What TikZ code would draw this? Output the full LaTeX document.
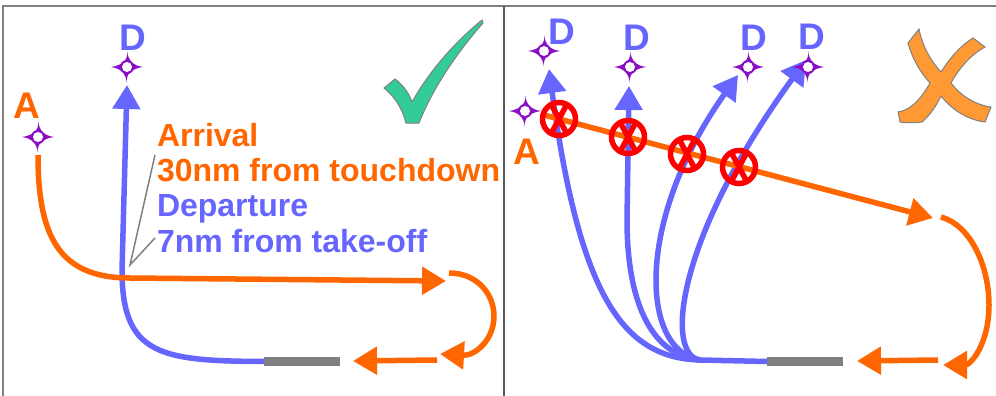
\documentclass[tikz,border=0pt]{standalone}
\usepackage{fontspec}
\setmainfont{Liberation Sans}
\usetikzlibrary{arrows.meta,positioning}
\definecolor{arrcol}{HTML}{FF6600}
\definecolor{depcol}{HTML}{6666FF}
\definecolor{wptcol}{HTML}{8A0FC4}
\definecolor{rwycol}{HTML}{808080}
\definecolor{okcol}{HTML}{33CC99}
\definecolor{badcol}{HTML}{FF9933}
\tikzstyle{every node}=[inner sep=0pt,outer sep=0pt]
\tikzstyle{arr}=[draw=arrcol,line width=5.5pt,-{Triangle[length=24pt,width=27pt]}]
\tikzstyle{dep}=[draw=depcol,line width=5.5pt,-{Triangle[length=24pt,width=27pt]}]
\tikzstyle{letter}=[font=\bfseries\fontsize{37}{37}\selectfont]
\tikzstyle{txt}=[font=\bfseries\fontsize{32}{32}\selectfont,anchor=base west]
\tikzstyle{rwy}=[fill=rwycol,minimum width=76pt,minimum height=9pt]
\tikzstyle{leader}=[draw=rwycol,line width=1.5pt]
\tikzstyle{wpt}=[minimum size=36pt,path picture={
  \fill[wptcol] (path picture bounding box.center) ++(0,-16)
    .. controls ++(1.5,10) and ++(-10,-1.5) .. ++(16,16)
    .. controls ++(-10,1.5) and ++(-1.5,-10) .. ++(-16,16)
    .. controls ++(-1.5,-10) and ++(10,1.5) .. ++(-16,-16)
    .. controls ++(10,-1.5) and ++(1.5,10) .. ++(16,-16) -- cycle;
  \fill[wptcol] (path picture bounding box.center) circle (7pt);
  \fill[white] (path picture bounding box.center) circle (5pt);}]
\tikzstyle{nogo}=[circle,draw=red,line width=5.5pt,minimum size=33pt,path picture={
  \draw[red,line width=5.5pt] (path picture bounding box.center) ++(-8,-15) -- ++(16,30);
  \draw[red,line width=5.5pt] (path picture bounding box.center) ++(8,-15) -- ++(-16,30);}]
\begin{document}
\begin{tikzpicture}[x=1pt,y=-1pt]
  \useasboundingbox (0,0) rectangle (996,396);
  % frame
  \draw[gray,line width=1.5pt] (3,396) -- (3,6) -- (996,6);
  \draw[black!65,line width=2.5pt] (504,6) -- (504,396);

  % good case
  \node[letter,text=depcol] (labD) at (133,38) {D};
  \node[letter,text=arrcol] (labA) at (27,106) {A};
  \node[wpt] (wptD) at (127,67) {};
  \node[wpt] (wptA) at (38,137) {};
  \node[rwy] (rwyL) at (302,361.5) {};
  \node[txt,text=arrcol] (txtArr) at (157,146) {Arrival};
  \node[txt,text=arrcol] (txtArrDist) at (157,181) {30nm from touchdown};
  \node[txt,text=depcol] (txtDep) at (157,216) {Departure};
  \node[txt,text=depcol] (txtDepDist) at (157,252) {7nm from take-off};
  \coordinate (leadEnd) at (130,265);
  \coordinate (leadTop) at (155,155);
  \coordinate (leadLow) at (155,238);
  \coordinate (turnIn) at (446,281);
  \coordinate (turnStart) at (449,273);
  \coordinate (turnEnd) at (440,354);
  \coordinate (finalStart) at (437,360);
  \coordinate (finalEnd) at (353,361);

  \draw[dep] (rwyL.west) .. controls (160,361) and (122,355) .. (122,270) -- (wptD.south);
  \draw[arr] (wptA.south) .. controls (38,235) and (58,278) .. (130,278) -- (turnIn);
  \draw[arr] (turnStart) .. controls (478,273) and (494,295) .. (494,316)
    .. controls (494,340) and (475,356) .. (turnEnd);
  \draw[arr] (finalStart) -- (finalEnd);
  \draw[leader] (leadTop) -- (leadEnd) -- (leadLow);

  \filldraw[fill=okcol,draw=gray,line width=1pt] (384,88) -- (395,79)
    .. controls (403,85) and (409,93) .. (412,102)
    .. controls (430,70) and (455,42) .. (482,20) -- (483,23)
    .. controls (455,55) and (432,90) .. (419,123) -- (406,123)
    .. controls (402,108) and (395,97) .. (384,88) -- cycle;

  % bad case
  \node[letter,text=depcol] (labDa) at (562,32) {D};
  \node[letter,text=depcol] (labDb) at (637,38) {D};
  \node[letter,text=depcol] (labDc) at (754,38) {D};
  \node[letter,text=depcol] (labDd) at (812,37) {D};
  \node[letter,text=arrcol] (labAb) at (527,152) {A};
  \node[wpt] (wptDa) at (544,51) {};
  \node[wpt] (wptDb) at (630,67) {};
  \node[wpt] (wptDc) at (748,67) {};
  \node[wpt] (wptAb) at (525,111) {};
  \node[rwy] (rwyR) at (805,361.5) {};
  \coordinate (fork) at (700,360);
  \coordinate (tipa) at (549,69);
  \coordinate (tipb) at (629,86);
  \coordinate (tipc) at (738,75);
  \coordinate (tipd) at (806,60);
  \coordinate (arrStart) at (544,115);
  \coordinate (arrEnd) at (933,218);
  \coordinate (loopStart) at (941,217);
  \coordinate (loopEnd) at (943,365);
  \coordinate (lastStart) at (938,360);
  \coordinate (lastEnd) at (857,361);

  \draw[depcol,line width=5.5pt] (rwyR.west) -- (fork);
  \draw[dep] (fork) .. controls (625,358) and (580,300) .. (tipa);
  \draw[dep] (fork) .. controls (650,355) and (627,300) .. (627,220) -- (tipb);
  \draw[dep] (fork) .. controls (640,350) and (635,220) .. (tipc);
  \draw[dep] (fork) .. controls (665,355) and (675,240) .. (tipd);
  \node[wpt] (wptDd) at (808,67) {};
  \draw[arr] (arrStart) -- (arrEnd);
  \draw[arr] (loopStart) .. controls (970,225) and (989,265) .. (989,305)
    .. controls (989,345) and (970,365) .. (loopEnd);
  \draw[arr] (lastStart) -- (lastEnd);

  \node[nogo] (noa) at (559,119) {};
  \node[nogo] (nob) at (628,137) {};
  \node[nogo] (noc) at (687,154) {};
  \node[nogo] (nod) at (739,167) {};

  \filldraw[fill=badcol,draw=gray,line width=1pt] (908,43) -- (919,29)
    .. controls (922,45) and (930,60) .. (941,72)
    .. controls (950,58) and (960,46) .. (973,38) -- (985,47)
    .. controls (970,55) and (958,70) .. (951,83)
    .. controls (960,95) and (975,105) .. (991,107) -- (985,122)
    .. controls (968,120) and (952,110) .. (941,96)
    .. controls (935,108) and (930,115) .. (922,122)
    .. controls (915,123) and (905,123) .. (900,122) -- (898,112)
    .. controls (912,110) and (922,97) .. (930,83)
    .. controls (920,72) and (912,58) .. (908,43) -- cycle;
\end{tikzpicture}
\end{document}
